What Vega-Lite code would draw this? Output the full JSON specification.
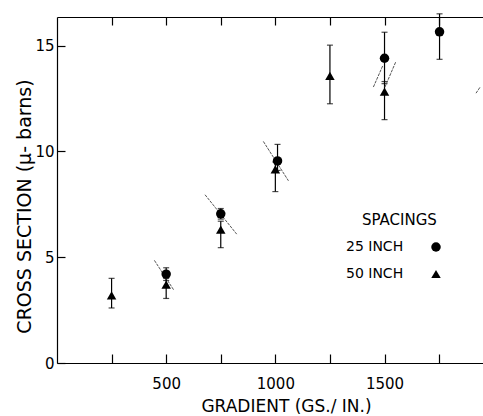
{
  "$schema": "https://vega.github.io/schema/vega-lite/v6.json",
  "width": 426,
  "height": 346,
  "autosize": {"type": "none"},
  "padding": {"left": 57, "top": 17, "right": 0, "bottom": 53},
  "background": "white",
  "config": {
    "view": {"stroke": null},
    "font": "DejaVu Sans",
    "axis": {
      "domainColor": "black",
      "domainWidth": 1.2,
      "tickColor": "black",
      "tickWidth": 1.2,
      "grid": false,
      "labelColor": "black",
      "titleColor": "black",
      "labelFont": "DejaVu Sans",
      "titleFont": "DejaVu Sans",
      "labelFontSize": 15,
      "titleFontSize": 17,
      "titleFontWeight": "normal"
    },
    "legend": {
      "labelFont": "DejaVu Sans",
      "titleFont": "DejaVu Sans"
    }
  },
  "datasets": {
    "pts": [
      {"gradient": 250, "cs": 3.2, "lo": 2.6, "hi": 4.0, "spacing": "50 INCH"},
      {"gradient": 500, "cs": 4.2, "lo": 3.9, "hi": 4.5, "spacing": "25 INCH"},
      {"gradient": 500, "cs": 3.7, "lo": 3.05, "hi": 4.0, "spacing": "50 INCH"},
      {"gradient": 750, "cs": 7.05, "lo": 6.8, "hi": 7.3, "spacing": "25 INCH"},
      {"gradient": 750, "cs": 6.3, "lo": 5.45, "hi": 6.7, "spacing": "50 INCH"},
      {"gradient": 1010, "cs": 9.55, "lo": 9.1, "hi": 10.33, "spacing": "25 INCH"},
      {"gradient": 1000, "cs": 9.15, "lo": 8.1, "hi": 9.5, "spacing": "50 INCH"},
      {"gradient": 1250, "cs": 13.57, "lo": 12.25, "hi": 15.02, "spacing": "50 INCH"},
      {"gradient": 1500, "cs": 14.4, "lo": 13.2, "hi": 15.63, "spacing": "25 INCH"},
      {"gradient": 1500, "cs": 12.82, "lo": 11.5, "hi": 13.3, "spacing": "50 INCH"},
      {"gradient": 1752, "cs": 15.65, "lo": 14.35, "hi": 16.5, "spacing": "25 INCH"}
    ],
    "slants": [
      {"seg": "a", "gradient": 446, "cs": 4.85},
      {"seg": "a", "gradient": 536, "cs": 3.43},
      {"seg": "b", "gradient": 678, "cs": 7.95},
      {"seg": "b", "gradient": 823, "cs": 6.09},
      {"seg": "c", "gradient": 945, "cs": 10.47},
      {"seg": "c", "gradient": 1060, "cs": 8.61},
      {"seg": "d", "gradient": 1449, "cs": 13.04},
      {"seg": "d", "gradient": 1492, "cs": 14.05},
      {"seg": "e", "gradient": 1502, "cs": 13.04},
      {"seg": "e", "gradient": 1551, "cs": 14.22},
      {"seg": "f", "gradient": 1919, "cs": 12.75},
      {"seg": "f", "gradient": 1938, "cs": 13.04}
    ]
  },
  "resolve": {"scale": {"x": "independent"}, "axis": {"x": "independent"}},
  "layer": [
    {
      "data": {"name": "pts"},
      "mark": {"type": "rule", "color": "black", "strokeWidth": 1.2},
      "encoding": {
        "x": {
          "field": "gradient", "type": "quantitative",
          "scale": {"domain": [0, 1951], "nice": false, "zero": false},
          "axis": {
            "orient": "bottom",
            "values": [250, 500, 750, 1000, 1250, 1500, 1750],
            "labelExpr": "datum.value % 500 === 0 ? datum.value : ''",
            "tickSize": -9,
            "labelPadding": 22,
            "title": "GRADIENT (GS./ IN.)",
            "titleX": 229,
            "titlePadding": 7
          }
        },
        "y": {
          "field": "lo", "type": "quantitative",
          "scale": {"domain": [0, 16.35], "nice": false},
          "axis": {"orient": "left", "values": [0, 5, 10, 15], "tickSize": -8, "labelPadding": 11, "title": "CROSS SECTION (μ- barns)", "titleFontSize": 19, "titleY": 189, "titlePadding": 0}
        },
        "y2": {"field": "hi"}
      }
    },
    {
      "data": {"name": "pts"},
      "mark": {"type": "tick", "orient": "horizontal", "color": "black", "size": 6, "thickness": 1.2},
      "encoding": {
        "x": {
          "field": "gradient", "type": "quantitative",
          "scale": {"domain": [0, 1951], "nice": false, "zero": false},
          "axis": {
            "orient": "top",
            "values": [250, 500, 750, 1000, 1250, 1500, 1750],
            "labels": false,
            "domain": true,
            "ticks": true,
            "tickSize": -8,
            "title": null
          }
        },
        "y": {"field": "lo", "type": "quantitative",
          "axis": {"orient": "left", "values": [0, 5, 10, 15], "tickSize": -8, "labelPadding": 11, "title": "CROSS SECTION (μ- barns)", "titleFontSize": 19, "titleY": 189, "titlePadding": 0}}
      }
    },
    {
      "data": {"name": "pts"},
      "mark": {"type": "tick", "orient": "horizontal", "color": "black", "size": 6, "thickness": 1.2},
      "encoding": {
        "x": {"field": "gradient", "type": "quantitative", "scale": {"domain": [0, 1951], "nice": false, "zero": false}, "axis": null},
        "y": {"field": "hi", "type": "quantitative",
          "axis": {"orient": "left", "values": [0, 5, 10, 15], "tickSize": -8, "labelPadding": 11, "title": "CROSS SECTION (μ- barns)", "titleFontSize": 19, "titleY": 189, "titlePadding": 0}}
      }
    },
    {
      "data": {"name": "slants"},
      "mark": {"type": "line", "color": "#555555", "strokeWidth": 1, "strokeDash": [3, 1]},
      "encoding": {
        "x": {"field": "gradient", "type": "quantitative", "scale": {"domain": [0, 1951], "nice": false, "zero": false}, "axis": null},
        "y": {"field": "cs", "type": "quantitative",
          "axis": {"orient": "left", "values": [0, 5, 10, 15], "tickSize": -8, "labelPadding": 11, "title": "CROSS SECTION (μ- barns)", "titleFontSize": 19, "titleY": 189, "titlePadding": 0}},
        "detail": {"field": "seg"}
      }
    },
    {
      "data": {"name": "pts"},
      "mark": {"type": "point", "filled": true, "color": "black", "opacity": 1, "size": 90},
      "encoding": {
        "x": {"field": "gradient", "type": "quantitative", "scale": {"domain": [0, 1951], "nice": false, "zero": false}, "axis": null},
        "y": {"field": "cs", "type": "quantitative",
          "axis": {"orient": "left", "values": [0, 5, 10, 15], "tickSize": -8, "labelPadding": 11, "title": "CROSS SECTION (μ- barns)", "titleFontSize": 19, "titleY": 189, "titlePadding": 0}},
        "shape": {
          "field": "spacing", "type": "nominal",
          "scale": {"domain": ["25 INCH", "50 INCH"], "range": ["circle", "triangle-up"]},
          "legend": {
            "orient": "none",
            "legendX": 305,
            "legendY": 196,
            "title": "SPACINGS",
            "titleFontSize": 15,
            "titleFontWeight": "normal",
            "titleColor": "black",
            "titlePadding": 12,
            "labelFontSize": 14,
            "labelColor": "black",
            "labelOffset": -97,
            "symbolOffset": 67,
            "symbolFillColor": "black",
            "symbolStrokeColor": "black",
            "symbolSize": 90,
            "rowPadding": 11
          }
        }
      }
    }
  ]
}
